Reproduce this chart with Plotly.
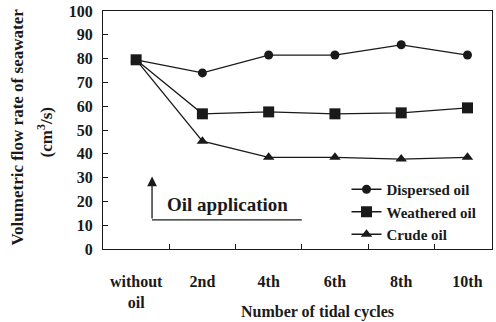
import plotly.graph_objects as go

categories = ["without<br>oil", "2nd", "4th", "6th", "8th", "10th"]
dispersed = [79.5, 74, 81.5, 81.5, 85.8, 81.5]
weathered = [79.5, 56.8, 57.6, 56.8, 57.2, 59.3]
crude = [79.5, 45.3, 38.5, 38.5, 37.8, 38.5]
y_ticks = [0, 10, 20, 30, 40, 50, 60, 70, 80, 90, 100]

FONT = "Liberation Serif"
C = "#1a1a1a"
xs = list(range(len(categories)))

fig = go.Figure()
for name, vals, sym, sz in [("Dispersed oil", dispersed, "circle", 9),
                            ("Weathered oil", weathered, "square", 11),
                            ("Crude oil", crude, "triangle-up", 10)]:
    fig.add_trace(go.Scatter(x=xs, y=vals, name="<b>%s</b>" % name, mode="lines+markers",
                             line=dict(color=C, width=1.3),
                             marker=dict(symbol=sym, size=sz, color=C)))

fig.add_shape(type="line", xref="x", yref="y", x0=0.24, x1=2.5, y0=12.2, y1=12.2,
              line=dict(color=C, width=1.3))
fig.add_annotation(x=0.24, y=30.5, ax=0.24, ay=12.2, xref="x", yref="y", axref="x", ayref="y",
                   text="", showarrow=True, arrowhead=2, arrowsize=1.5, arrowwidth=1.3, arrowcolor=C)
fig.add_annotation(x=0.43, y=18.8, xref="x", yref="y", text="<b>Oil application</b>", showarrow=False,
                   xanchor="left", yanchor="middle", font=dict(family=FONT, size=19, color=C))

# axis titles
fig.add_annotation(x=(18 - 103) / 389, y=0.51, xref="paper", yref="paper", textangle=-90,
                   text="<b>Volumetric flow rate of seawater</b>", showarrow=False,
                   xanchor="center", yanchor="middle", font=dict(family=FONT, size=17, color=C))
fig.add_annotation(x=(45 - 103) / 389, y=0.49, xref="paper", yref="paper", textangle=-90,
                   text="<b>(cm<sup>3</sup>/s)</b>", showarrow=False,
                   xanchor="center", yanchor="middle", font=dict(family=FONT, size=17, color=C))
fig.add_annotation(x=(317 - 103) / 389, y=(249 - 312) / 238, xref="paper", yref="paper",
                   text="<b>Number of tidal cycles</b>", showarrow=False,
                   xanchor="center", yanchor="middle", font=dict(family=FONT, size=16, color=C))

fig.update_layout(
    width=496, height=322,
    margin=dict(l=103, r=4, t=11, b=73),
    paper_bgcolor="white", plot_bgcolor="white",
    font=dict(family=FONT, size=13, color=C),
    showlegend=True,
    legend=dict(x=0.626, y=(249 - 212) / 238, xanchor="left", yanchor="middle", bgcolor="rgba(0,0,0,0)",
                font=dict(family=FONT, size=15, color=C), itemwidth=30, tracegroupgap=0),
    xaxis=dict(range=[-0.5, 5.37], tickmode="array", tickvals=xs, automargin=False,
               ticktext=["<b>%s</b>" % c for c in categories], ticks="",
               showline=True, linecolor=C, linewidth=1.3, mirror=True, showgrid=False, zeroline=False,
               tickfont=dict(family=FONT, size=16, color=C), ticklabelstandoff=18,
               minor=dict(tickmode="array", tickvals=[0.5, 1.5, 2.5, 3.5, 4.5], ticks="inside",
                          ticklen=5, tickcolor=C, tickwidth=1.2, showgrid=False)),
    yaxis=dict(range=[0, 100], tickmode="array", tickvals=y_ticks, automargin=False,
               ticktext=["<b>%d</b>" % v for v in y_ticks],
               ticks="inside", ticklen=5, tickcolor=C, tickwidth=1.2,
               showline=True, linecolor=C, linewidth=1.3, mirror=True, showgrid=False, zeroline=False,
               tickfont=dict(family=FONT, size=16, color=C), ticklabelstandoff=6),
)

fig.write_html("out.html", config={"displayModeBar": False},
               post_script="document.body.style.margin='0';")
